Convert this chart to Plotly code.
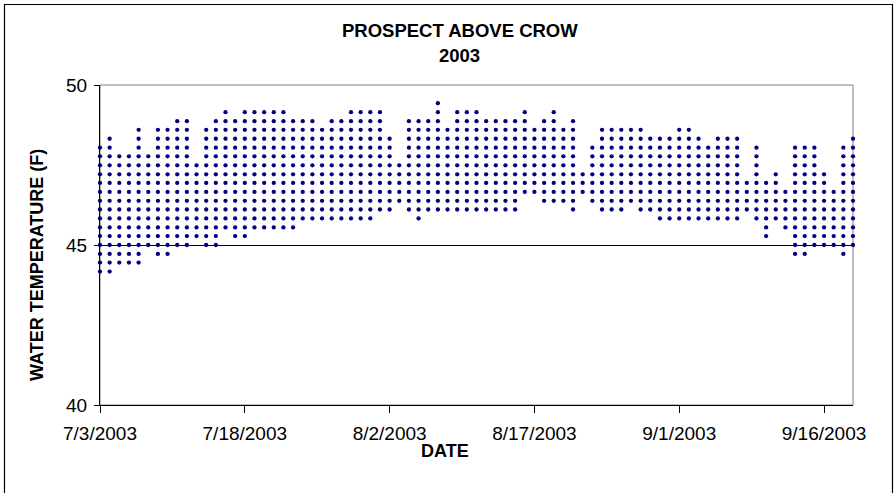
import datetime as dt
import plotly.graph_objects as go

# ---- data ----
START_DATE = "2003-07-03"
# discrete logger reading levels (deg F)
LEVELS = [44.17, 44.45, 44.72, 45.00, 45.28, 45.55, 45.83, 46.11, 46.38, 46.66,
          46.94, 47.21, 47.49, 47.77, 48.04, 48.32, 48.60, 48.87, 49.15, 49.43]
# daily maximum reading, 7/3/2003 .. 9/19/2003
DAILY_MAX = [48.04, 48.32, 47.77, 47.77, 48.60, 47.77, 48.60, 48.60, 48.87, 48.87,
             47.49, 48.60, 48.87, 49.15, 48.87, 49.15, 49.15, 49.15, 49.15, 49.15,
             48.87, 48.87, 48.87, 48.60, 48.87, 48.87, 49.15, 49.15, 49.15, 49.15,
             48.32, 47.49, 48.87, 48.87, 48.87, 49.43, 48.60, 49.15, 49.15, 49.15,
             48.87, 48.87, 48.87, 48.87, 49.15, 48.60, 48.87, 49.15, 48.60, 48.87,
             47.21, 48.04, 48.60, 48.60, 48.60, 48.60, 48.60, 48.32, 48.32, 48.32,
             48.60, 48.60, 48.32, 48.04, 48.32, 48.32, 48.32, 46.94, 48.04, 46.94,
             47.21, 46.66, 48.04, 48.04, 48.04, 47.21, 46.66, 48.04, 48.32]
# daily minimum reading
DAILY_MIN = [44.17, 44.17, 44.45, 44.45, 44.45, 45.00, 44.72, 44.72, 45.00, 45.00,
             45.28, 45.00, 45.00, 45.55, 45.28, 45.28, 45.55, 45.55, 45.55, 45.55,
             45.55, 45.83, 45.83, 45.83, 45.83, 45.83, 45.83, 45.83, 45.83, 46.11,
             46.11, 46.38, 46.11, 45.83, 46.11, 46.11, 46.11, 46.11, 46.11, 46.11,
             46.11, 46.11, 46.11, 46.11, 46.66, 46.66, 46.38, 46.38, 46.38, 46.11,
             46.66, 46.38, 46.11, 46.11, 46.11, 46.38, 46.11, 46.11, 45.83, 45.83,
             45.83, 45.83, 45.83, 45.83, 45.83, 45.83, 45.83, 46.11, 45.83, 45.28,
             45.83, 45.55, 44.72, 44.72, 45.00, 45.00, 45.00, 44.72, 45.00]
X_TICKS = ["2003-07-03", "2003-07-18", "2003-08-02", "2003-08-17", "2003-09-01", "2003-09-16"]
X_TICK_LABELS = ["7/3/2003", "7/18/2003", "8/2/2003", "8/17/2003", "9/1/2003", "9/16/2003"]
Y_TICKS = [40, 45, 50]

# ---- build points ----
start = dt.date.fromisoformat(START_DATE)
xs, ys = [], []
for i, (lo, hi) in enumerate(zip(DAILY_MIN, DAILY_MAX)):
    d = start + dt.timedelta(days=i)
    for lv in LEVELS:
        if lo - 1e-6 <= lv <= hi + 1e-6:
            xs.append(d.isoformat())
            ys.append(lv)
end = start + dt.timedelta(days=len(DAILY_MAX) - 1)

FONT = "Liberation Sans, Arial, sans-serif"

fig = go.Figure()
fig.add_trace(go.Scatter(
    x=xs, y=ys, mode="markers",
    marker=dict(size=4.3, color="#000080", line=dict(width=0)),
    showlegend=False, cliponaxis=False,
))

L, R, T, B = 100, 43, 85, 88
PW, PH = 896 - L - R, 493 - T - B

def px(xp):
    return (xp - L) / PW

def py(yp):
    return (493 - B - yp) / PH

fig.update_layout(
    width=896, height=493,
    margin=dict(l=L, r=R, t=T, b=B, pad=0),
    paper_bgcolor="white", plot_bgcolor="white",
    font=dict(family=FONT, color="black", size=18),
    xaxis=dict(
        type="date", range=[start.isoformat(), end.isoformat()],
        tickvals=X_TICKS, ticktext=X_TICK_LABELS,
        showgrid=False, zeroline=False,
        showline=True, linecolor="black", linewidth=1,
        ticks="outside", ticklen=7, tickcolor="black", tickwidth=1,
        tickfont=dict(size=19, family=FONT),
        ticklabelstandoff=4,
    ),
    yaxis=dict(
        range=[40, 50], tickvals=Y_TICKS,
        showgrid=True, gridcolor="black", gridwidth=1, zeroline=False,
        showline=True, linecolor="black", linewidth=1,
        ticks="outside", ticklen=5, tickcolor="black", tickwidth=1,
        tickfont=dict(size=19, family=FONT),
        ticklabelstandoff=3,
    ),
    shapes=[
        # plot area border (top/right grey)
        dict(type="rect", xref="paper", yref="paper", x0=0, x1=1, y0=0, y1=1,
             line=dict(color="#808080", width=1), layer="below"),
        # outer chart border
        dict(type="rect", xref="paper", yref="paper",
             x0=px(4.5), x1=px(892.5), y0=py(4.5), y1=py(498),
             line=dict(color="black", width=1.2), layer="below"),
    ],
    annotations=[
        dict(text="<b>PROSPECT ABOVE CROW</b>", xref="paper", yref="paper",
             x=px(460), y=py(30), xanchor="center", yanchor="middle",
             showarrow=False, font=dict(size=18.5, family=FONT)),
        dict(text="<b>2003</b>", xref="paper", yref="paper",
             x=px(459), y=py(55), xanchor="center", yanchor="middle",
             showarrow=False, font=dict(size=18.5, family=FONT)),
        dict(text="<b>WATER TEMPERATURE (F)</b>", xref="paper", yref="paper",
             x=px(37), y=py(265), xanchor="center", yanchor="middle", textangle=-90,
             showarrow=False, font=dict(size=18, family=FONT)),
        dict(text="<b>DATE</b>", xref="paper", yref="paper",
             x=px(445), y=py(451), xanchor="center", yanchor="middle",
             showarrow=False, font=dict(size=18, family=FONT)),
    ],
)

fig.write_html("out.html",
               config={"displayModeBar": False},
               post_script="document.body.style.margin='0';document.body.style.overflow='hidden';")
